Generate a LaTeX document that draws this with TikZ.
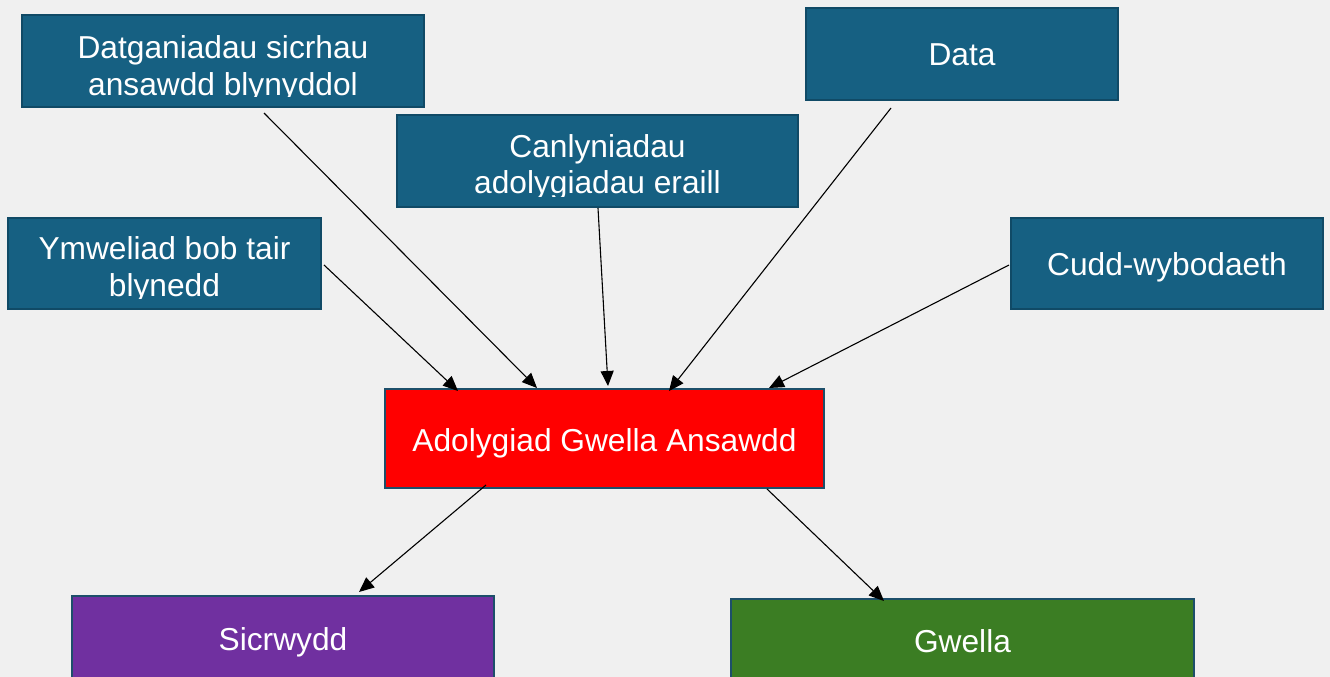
\documentclass[tikz,border=0pt]{standalone}
\usepackage{fontspec}
\setmainfont{Liberation Sans}
\usetikzlibrary{arrows.meta,calc}
\definecolor{bgcol}{HTML}{F0F0F0}
\definecolor{tealfill}{HTML}{166082}
\definecolor{tealedge}{HTML}{104A66}
\definecolor{edgeblue}{HTML}{1D4F6A}
\definecolor{redfill}{HTML}{FF0000}
\definecolor{purplefill}{HTML}{7030A0}
\definecolor{greenfill}{HTML}{3B7D23}
\newcommand{\baselbl}[2]{\raisebox{#1}[0pt][0pt]{#2}}
\tikzset{
  box/.style={rectangle, inner sep=0pt, line width=2pt, text=white,
    font=\fontsize{31.7}{36.5}\selectfont, align=center},
  tealbox/.style={box, fill=tealfill, draw=tealedge},
  label/.style={inner sep=0pt, text=white, font=\fontsize{31.7}{36.5}\selectfont, align=center},
  conn/.style={line width=1.1pt, -{Triangle[length=15pt,width=13pt]}}
}
\begin{document}
\begin{tikzpicture}[x=1pt,y=-1pt]
\useasboundingbox (0,0) rectangle (1330,677);
\clip (0,0) rectangle (1330,677);
\fill[bgcol] (0,0) rectangle (1330,677);

% top boxes
\node[tealbox, minimum width=402pt, minimum height=92pt] (d1) at (223,61) {};
\begin{scope}
\clip (22,15) rectangle (424,96);
\node[label] (t1) at (223,69) {Datganiadau sicrhau\\ansawdd blynyddol};
\end{scope}

\node[tealbox, minimum width=313pt, minimum height=91pt] (d2) at (164.5,263.5) {};
\begin{scope}
\clip (8,218) rectangle (321,298);
\node[label] (t2) at (164.5,270) {Ymweliad bob tair\\blynedd};
\end{scope}

\node[tealbox, minimum width=401pt, minimum height=92pt] (d3) at (597.5,161) {};
\begin{scope}
\clip (397,115) rectangle (798,196);
\node[label] (t3) at (597.5,167.5) {Canlyniadau\\adolygiadau eraill};
\end{scope}

\node[tealbox, minimum width=312pt, minimum height=92pt] (d4) at (962,54) {\baselbl{-12pt}{Data}};
\node[tealbox, minimum width=312pt, minimum height=91pt] (d5) at (1167,263.5) {\baselbl{-11.5pt}{Cudd-wybodaeth}};

% centre box
\node[box, fill=redfill, draw=edgeblue, minimum width=439pt, minimum height=99pt] (red) at (604.5,438.5) {\baselbl{-12.5pt}{Adolygiad Gwella Ansawdd}};

% bottom boxes
\node[box, fill=purplefill, draw=edgeblue, minimum width=422pt, minimum height=88pt] (pu) at (283,640) {\baselbl{-10pt}{Sicrwydd}};
\node[box, fill=greenfill, draw=edgeblue, minimum width=463pt, minimum height=84pt] (gr) at (962.5,641) {\baselbl{-11pt}{Gwella}};

% connectors
\draw[conn] ($(d1.south west)+(243,5)$) -- ($(red.north west)+(153,0)$);
\draw[conn] ($(d2.east)+(2,1.5)$) -- ($(red.north west)+(74,3)$);
\draw[conn] ($(d3.south)+(0.5,0)$) -- ($(red.north west)+(224,-2)$);
\draw[conn] ($(d4.south west)+(86,7)$) -- ($(red.north west)+(285,3)$);
\draw[conn] ($(d5.west)+(-1,1.5)$) -- ($(red.north west)+(385,0)$);
\draw[conn] ($(red.south west)+(102,-4)$) -- ($(pu.north west)+(288,-3)$);
\draw[conn] ($(red.south west)+(383,0)$) -- ($(gr.north west)+(154,3)$);
\end{tikzpicture}
\end{document}
